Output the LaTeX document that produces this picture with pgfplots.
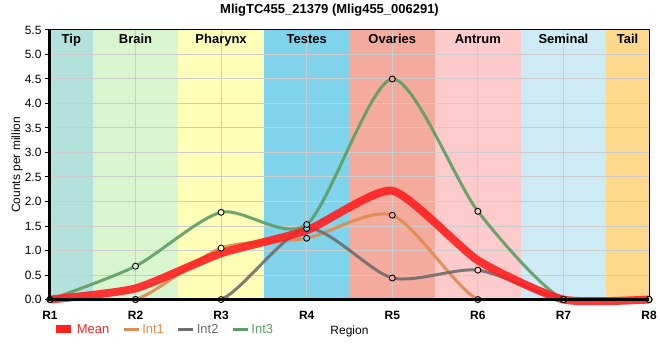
\documentclass[border=0pt]{standalone}
\usepackage{fontspec}
\setmainfont{Liberation Sans}
\usepackage{pgfplots}
\pgfplotsset{compat=1.18}
\definecolor{cTip}{HTML}{B3E2DD}
\definecolor{cBrain}{HTML}{D9F5D0}
\definecolor{cPhar}{HTML}{FFFFB8}
\definecolor{cTest}{HTML}{7FD3EA}
\definecolor{cOva}{HTML}{F4AA9C}
\definecolor{cAnt}{HTML}{FDCBCB}
\definecolor{cSem}{HTML}{CDEAF5}
\definecolor{cTail}{HTML}{FED98B}
\definecolor{cMean}{HTML}{FF2020}
\definecolor{cInt1}{HTML}{E08A4C}
\definecolor{cInt2}{HTML}{6E6E6E}
\definecolor{cInt3}{HTML}{5C9E64}
\definecolor{cGrid}{HTML}{CCCCCC}
\begin{document}
\begin{tikzpicture}
\begin{axis}[
  set layers,
  scale only axis, width=600bp, height=270bp,
  xmin=1, xmax=8, ymin=0, ymax=5.5,
  clip mode=individual,
  xtick={1,2,3,4,5,6,7,8},
  xticklabels={R1,R2,R3,R4,R5,R6,R7,R8},
  ytick={0,0.5,1,1.5,2,2.5,3,3.5,4,4.5,5,5.5},
  yticklabel style={/pgf/number format/.cd, fixed, fixed zerofill, precision=1, assume math mode=true},
  ticklabel style={font=\fontsize{12bp}{14bp}\selectfont},
  xticklabel style={font=\fontsize{12bp}{14bp}\selectfont\bfseries, yshift=-3bp},
  tick pos=left, tick align=outside, major tick length=5bp,
  xtick style={draw=none},
  ytick style={black, line width=1bp},
  grid=major, grid style={draw=cGrid, line width=1bp},
  axis line style={black, line width=1bp},
  title={\bfseries MligTC455\_21379 (Mlig455\_006291)},
  title style={font=\fontsize{13bp}{15bp}\selectfont, at={(0.4667,1.052)}, anchor=center},
  xlabel={Region},
  xlabel style={font=\fontsize{12bp}{14bp}\selectfont, at={(0.5,-0.1185)}, anchor=center},
  ylabel={Counts per million},
  ylabel style={font=\fontsize{12bp}{14bp}\selectfont, at={(-0.055,0.5)}, anchor=center},
  legend style={draw=none, fill=none, at={(0.003,-0.111)}, anchor=west, legend columns=-1,
    inner sep=0pt, font=\fontsize{13bp}{15bp}\selectfont,
    /tikz/every even column/.append style={column sep=11bp},
    /tikz/every odd column/.append style={column sep=0bp}},
  legend image code/.code={\draw[#1] (0bp,0bp) -- (15bp,0bp);},
  after end axis/.code={\begin{pgfonlayer}{axis foreground}\draw[line width=3bp, black] (rel axis cs:0,1) -- (rel axis cs:0,0) -- (rel axis cs:1,0);\end{pgfonlayer}},
]
% background bands
\addplot[fill=cTip, draw=none, forget plot, on layer=axis background] coordinates {(1,5.5) (1.5,5.5)} \closedcycle;
\addplot[fill=cBrain, draw=none, forget plot, on layer=axis background] coordinates {(1.5,5.5) (2.5,5.5)} \closedcycle;
\addplot[fill=cPhar, draw=none, forget plot, on layer=axis background] coordinates {(2.5,5.5) (3.5,5.5)} \closedcycle;
\addplot[fill=cTest, draw=none, forget plot, on layer=axis background] coordinates {(3.5,5.5) (4.5,5.5)} \closedcycle;
\addplot[fill=cOva, draw=none, forget plot, on layer=axis background] coordinates {(4.5,5.5) (5.5,5.5)} \closedcycle;
\addplot[fill=cAnt, draw=none, forget plot, on layer=axis background] coordinates {(5.5,5.5) (6.5,5.5)} \closedcycle;
\addplot[fill=cSem, draw=none, forget plot, on layer=axis background] coordinates {(6.5,5.5) (7.5,5.5)} \closedcycle;
\addplot[fill=cTail, draw=none, forget plot, on layer=axis background] coordinates {(7.5,5.5) (8,5.5)} \closedcycle;

% lines
\addplot[cInt1, line width=3bp, smooth, tension=0.45, opacity=0.9, forget plot] coordinates {(1,0) (2,0) (3,1.05) (4,1.25) (5,1.72) (6,0) (7,0) (8,0)};
\addplot[cInt2, line width=3bp, smooth, tension=0.45, opacity=0.9, forget plot] coordinates {(1,0) (2,0) (3,0) (4,1.45) (5,0.44) (6,0.6) (7,0) (8,0)};
\addplot[cInt3, line width=3bp, smooth, tension=0.45, opacity=0.9, forget plot] coordinates {(1,0) (2,0.68) (3,1.78) (4,1.53) (5,4.5) (6,1.8) (7,0) (8,0)};
\addplot[cMean, line width=8bp, smooth, tension=0.35, opacity=0.9, forget plot, clip=false] coordinates {(1,0) (2,0.227) (3,0.943) (4,1.41) (5,2.22) (6,0.8) (7,0) (8,0)};

% markers (Int1, Int2, Int3), filled with the band colour
\addplot[scatter, only marks, forget plot, point meta=explicit symbolic,
  scatter/classes={
    a={mark=*, draw=black, fill=cTip},
    b={mark=*, draw=black, fill=cBrain},
    c={mark=*, draw=black, fill=cPhar},
    d={mark=*, draw=black, fill=cTest},
    e={mark=*, draw=black, fill=cOva},
    f={mark=*, draw=black, fill=cAnt},
    g={mark=*, draw=black, fill=cSem},
    h={mark=*, draw=black, fill=cTail}},
  mark size=3bp, mark options={line width=0.9bp}]
  coordinates {
  (1,0) [a] (2,0) [b] (3,1.05) [c] (4,1.25) [d] (5,1.72) [e] (6,0) [f] (7,0) [g] (8,0) [h]
  (1,0) [a] (2,0) [b] (3,0) [c] (4,1.45) [d] (5,0.44) [e] (6,0.6) [f] (7,0) [g] (8,0) [h]
  (1,0) [a] (2,0.68) [b] (3,1.78) [c] (4,1.53) [d] (5,4.5) [e] (6,1.8) [f] (7,0) [g] (8,0) [h]
  };

% legend
\addlegendimage{cMean, line width=8bp}
\addlegendentry{\textcolor{cMean}{Mean}}
\addlegendimage{cInt1, line width=3bp}
\addlegendentry{\textcolor{cInt1}{Int1}}
\addlegendimage{cInt2, line width=3bp}
\addlegendentry{\textcolor{cInt2}{Int2}}
\addlegendimage{cInt3, line width=3bp}
\addlegendentry{\textcolor{cInt3}{Int3}}

% band labels
\begin{scope}[font=\fontsize{13bp}{15bp}\selectfont\bfseries]
\node[anchor=base] at (axis cs:1.25,5.5) [yshift=-14bp] {Tip};
\node[anchor=base] at (axis cs:2,5.5) [yshift=-14bp] {Brain};
\node[anchor=base] at (axis cs:3,5.5) [yshift=-14bp] {Pharynx};
\node[anchor=base] at (axis cs:4,5.5) [yshift=-14bp] {Testes};
\node[anchor=base] at (axis cs:5,5.5) [yshift=-14bp] {Ovaries};
\node[anchor=base] at (axis cs:6,5.5) [yshift=-14bp] {Antrum};
\node[anchor=base] at (axis cs:7,5.5) [yshift=-14bp] {Seminal};
\node[anchor=base] at (axis cs:7.75,5.5) [yshift=-14bp] {Tail};
\end{scope}

% bounding box
\path (rel axis cs:0,0) ++(-50bp,-60bp);
\path (rel axis cs:1,1) ++(10bp,30bp);
\end{axis}
\end{tikzpicture}
\end{document}
